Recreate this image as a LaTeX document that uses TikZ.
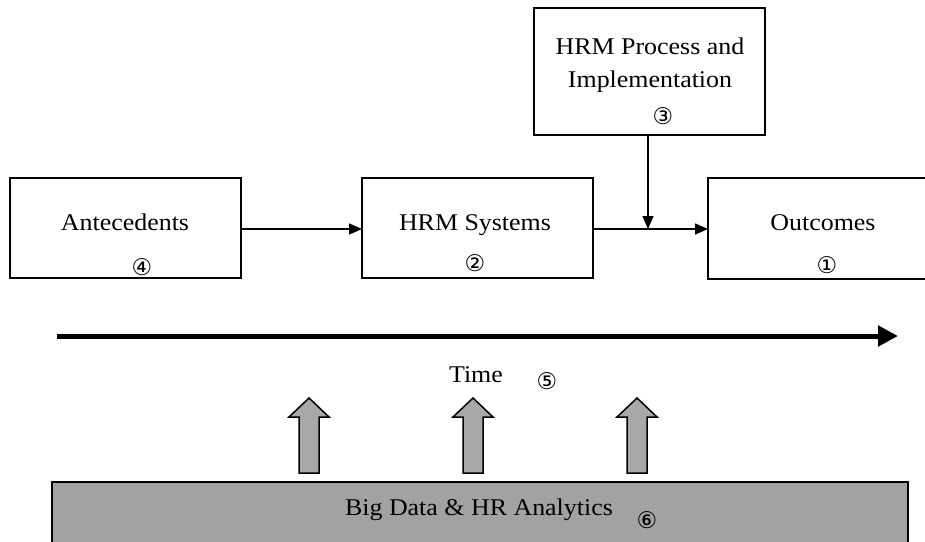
\documentclass[tikz,border=0pt]{standalone}
\usepackage{fontspec}
\setmainfont[FakeStretch=1.08]{Liberation Serif}
\newfontfamily\circfont{DejaVu Sans}
\usetikzlibrary{arrows.meta}
\definecolor{boxgray}{RGB}{162,162,162}
\definecolor{arrgray}{RGB}{168,168,168}
\tikzset{
  mainbox/.style={draw=black, line width=1.5pt, fill=white},
  lbl/.style={font=\fontsize{24}{28}\selectfont, inner sep=0pt, align=center, anchor=base},
  num/.style={font=\circfont\fontsize{23}{23}\selectfont, inner sep=0pt},
  conn/.style={line width=1.4pt, -{Triangle[length=13pt,width=11pt]}},
  timearrow/.style={line width=5pt, -{Triangle[length=20pt,width=20pt]}},
  blockarrow/.style={draw=black, line width=1.5pt, fill=arrgray, line join=miter}
}
\begin{document}
\begin{tikzpicture}[x=1pt,y=-1pt]
\useasboundingbox (0,0) rectangle (925,541);
\clip (0,0) rectangle (925,541);
% boxes
\draw[mainbox] (10,178) rectangle (241,278);
\draw[mainbox] (362,178) rectangle (593,278);
\draw[mainbox] (708,178) rectangle (935,279);
\draw[mainbox] (534,8) rectangle (765,135);
\node[lbl] (ante) at (125,230) {Antecedents};
\node[num] (n4) at (142,267) {④};
\node[lbl] (hrms) at (475,230) {HRM Systems};
\node[num] (n2) at (475,263) {②};
\node[lbl] (outc) at (823,230) {Outcomes};
\node[num] (n1) at (827,265) {①};
\node[lbl, anchor=center, font=\fontsize{24}{33}\selectfont] (proc) at (650,65.5) {HRM Process and\\Implementation};
\node[num] (n3) at (663,116) {③};
% connector anchors
\coordinate (aR) at (241,229);
\coordinate (hL) at (362,229);
\coordinate (hR) at (593,229);
\coordinate (oL) at (708,229);
\coordinate (pB) at (648,135);
\coordinate (mid) at (648,229);
\draw[conn] (aR) -- (hL);
\draw[conn] (hR) -- (oL);
\draw[conn] (pB) -- (mid);
% time arrow
\coordinate (tS) at (57,336);
\coordinate (tE) at (898,336);
\draw[timearrow] (tS) -- (tE);
\node[lbl] (time) at (476,382) {Time};
\node[num] (n5) at (547,381) {⑤};
% bottom bar
\draw[draw=black, line width=1.6pt, fill=boxgray] (52,482) rectangle (908,560);
\node[lbl] (big) at (479,515) {Big Data \& HR Analytics};
\node[num] (n6) at (647,520) {⑥};
% block arrows
\foreach \cx in {309,473,637}{
  \draw[blockarrow] (\cx-10,473) -- (\cx-10,417) -- (\cx-20,417) -- (\cx,398) -- (\cx+20,417) -- (\cx+10,417) -- (\cx+10,473) -- cycle;
}
\end{tikzpicture}
\end{document}
